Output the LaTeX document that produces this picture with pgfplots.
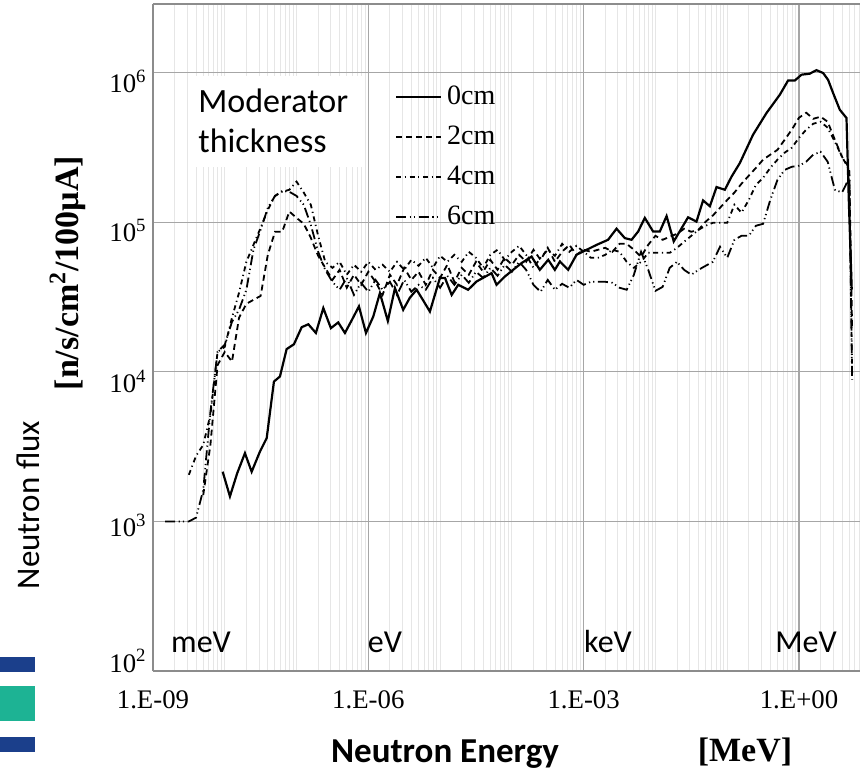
\documentclass[border=0pt]{standalone}
\usepackage{fontspec}
\setmainfont{Liberation Serif}
\newfontfamily\calibri{Carlito}
\usepackage{pgfplots}
\pgfplotsset{compat=1.18}
\definecolor{gridmajor}{HTML}{A6A6A6}
\definecolor{gridminor}{HTML}{E6E6E6}
\definecolor{axisgray}{HTML}{8C8C8C}
\definecolor{dkblue}{HTML}{1B3F8B}
\definecolor{decoteal}{HTML}{1DB394}
\begin{document}
\begin{tikzpicture}[x=1pt,y=1pt]
\begin{axis}[
  at={(76.5pt,48.5pt)}, anchor=south west,
  scale only axis, width=353.5pt, height=333.5pt,
  xmode=log, ymode=log,
  xmin=1e-9, xmax=7.08, ymin=100, ymax=2.88e6,
  xtick={1e-9,1e-6,1e-3,1},
  xticklabels={1.E-09,1.E-06,1.E-03,1.E+00},
  minor xtick={2e-9,3e-9,4e-9,5e-9,6e-9,7e-9,8e-9,9e-9,1e-8,2e-8,3e-8,4e-8,5e-8,6e-8,7e-8,8e-8,9e-8,1e-7,2e-7,3e-7,4e-7,5e-7,6e-7,7e-7,8e-7,9e-7,2e-6,3e-6,4e-6,5e-6,6e-6,7e-6,8e-6,9e-6,1e-5,2e-5,3e-5,4e-5,5e-5,6e-5,7e-5,8e-5,9e-5,1e-4,2e-4,3e-4,4e-4,5e-4,6e-4,7e-4,8e-4,9e-4,2e-3,3e-3,4e-3,5e-3,6e-3,7e-3,8e-3,9e-3,1e-2,2e-2,3e-2,4e-2,5e-2,6e-2,7e-2,8e-2,9e-2,1e-1,2e-1,3e-1,4e-1,5e-1,6e-1,7e-1,8e-1,9e-1,2,3,4,5,6,7},
  ytick={1e2,1e3,1e4,1e5,1e6},
  yticklabels={10\textsuperscript{2},10\textsuperscript{3},10\textsuperscript{4},10\textsuperscript{5},10\textsuperscript{6}},
  xmajorgrids, xminorgrids, ymajorgrids,
  major grid style={draw=gridmajor, line width=0.6pt},
  minor grid style={draw=gridminor, line width=0.5pt},
  major tick length=0pt, minor tick length=0pt,
  axis x line*=box, axis y line*=left,
  axis line style={draw=axisgray, line width=0.6pt, -},
  xticklabel style={font=\fontsize{13.4}{16}\selectfont, anchor=base, yshift=-18.5pt},
  yticklabel style={font=\fontsize{13.4}{16}\selectfont, anchor=east, inner sep=0pt, xshift=-3pt, yshift={{5,-2,-4.75,-4,-4.25}[\ticknum]*1pt}},
  legend cell align=left,
  legend style={draw=none, fill=none, at={(axis description cs:0.3423,0.880)}, anchor=north west,
    inner sep=0pt, outer sep=0pt, font=\fontsize{14}{16}\selectfont, row sep=7pt,
    nodes={inner sep=0pt, text height=10pt, text depth=3pt},
    /tikz/every odd column/.append style={column sep=2.5pt}},
  legend image code/.code={\draw[#1] (0pt,0pt) -- (22.5pt,0pt);},
]
% 0 cm
\addplot[black, line width=1.1pt] coordinates {
(9.35e-9,2150)(1.18e-8,1470)(1.49e-8,2100)(1.91e-8,2860)(2.37e-8,2150)(3.09e-8,2930)(3.84e-8,3610)(4.84e-8,8610)(5.87e-8,9310)(7.28e-8,14200)
(9.2e-8,15300)(1.18e-7,19900)(1.46e-7,20800)(1.86e-7,18200)(2.36e-7,26700)(3.01e-7,19600)(3.81e-7,21400)(4.72e-7,18200)(5.92e-7,22300)(7.40e-7,27400)
(9.27e-7,18200)(1.17e-6,23400)(1.45e-6,33600)(1.87e-6,21900)(2.35e-6,36300)(3.06e-6,26000)(3.79e-6,31300)(4.71e-6,35400)(5.75e-6,30300)(7.21e-6,25300)
(9.93e-6,42400)(1.17e-5,42400)(1.45e-5,32700)(1.79e-5,38200)(2.46e-5,35400)(3.22e-5,40200)(5.21e-5,45700)(6.12e-5,38200)(8.0e-5,43400)(1.04e-4,48100)
(1.36e-4,53300)(1.88e-4,59000)(2.45e-4,48100)(3.21e-4,56100)(3.97e-4,48100)(4.67e-4,54700)(6.08e-4,48100)(7.96e-4,60700)(9.85e-4,63800)(1.51e-3,70600)
(2.19e-3,76400)(2.87e-3,90600)(3.75e-3,78400)(4.65e-3,76400)(5.74e-3,86700)(7.11e-3,107000)(9.29e-3,86700)(1.15e-2,86700)(1.43e-2,110000)(1.80e-2,74500)
(2.85e-2,108000)(3.73e-2,101000)(4.61e-2,140000)(5.73e-2,128000)(7.10e-2,172000)(9.27e-2,165000)(0.115,202000)(0.150,249000)(0.229,385000)(0.352,537000)
(0.541,713000)(0.705,887000)(0.875,887000)(1.084,970000)(1.41,985000)(1.75,1040000)(2.17,995000)(2.54,897000)(2.99,731000)(3.70,566000)
(4.59,498000)(4.94,142000)(5.43,35400)
};
\addlegendentry{0cm}
% 2 cm
\addplot[black, line width=0.9pt, dash pattern=on 3pt off 2pt] coordinates {
(5.01e-9,1500)(6.31e-9,3250)(7.94e-9,11100)(1e-8,13600)(1.26e-8,11700)(1.58e-8,23000)(2.0e-8,28500)(2.51e-8,30300)(3.16e-8,32200)(3.98e-8,60600)
(5.01e-8,86400)(6.31e-8,86400)(7.94e-8,118000)(1e-7,107000)(1.26e-7,97700)(1.58e-7,78800)(2.0e-7,59700)(2.51e-7,49600)(3.16e-7,41200)(3.98e-7,48100)
(5.01e-7,36500)(6.31e-7,44600)(7.94e-7,38200)(1e-6,46700)(1.26e-6,40000)(1.58e-6,32700)(2.0e-6,44600)(2.51e-6,38200)(3.16e-6,49600)(3.98e-6,41200)
(5.01e-6,46700)(6.31e-6,38200)(7.94e-6,48100)(1e-5,42500)(1.26e-5,52000)(1.58e-5,40000)(2.0e-5,49600)(2.51e-5,44600)(3.16e-5,54400)(3.98e-5,46700)
(5.01e-5,56100)(6.31e-5,48100)(7.94e-5,57900)(1e-4,52000)(1.26e-4,60600)(1.58e-4,54400)(2.0e-4,65500)(2.51e-4,56100)(3.16e-4,67500)(3.98e-4,54400)
(5.01e-4,63500)(6.31e-4,70700)(7.94e-4,60600)(1e-3,65500)(1.26e-3,63500)(1.58e-3,65500)(2.0e-3,67500)(2.51e-3,63500)(3.16e-3,71800)(3.98e-3,71800)
(5.01e-3,65500)(6.31e-3,58800)(7.94e-3,70700)(1e-2,81200)(1.26e-2,76400)(1.58e-2,80000)(2.0e-2,83800)(2.51e-2,90500)(3.16e-2,86400)(3.98e-2,89100)
(5.01e-2,101000)(6.31e-2,111000)(7.94e-2,125000)(0.1,141000)(0.126,158000)(0.158,181000)(0.2,205000)(0.251,231000)(0.316,262000)(0.398,283000)
(0.501,305000)(0.631,356000)(0.794,416000)(1.0,500000)(1.26,540000)(1.58,492000)(2.0,508000)(2.51,470000)(3.16,356000)(3.98,274000)
(5.01,231000)(5.5,19100)
};
\addlegendentry{2cm}
% 4 cm
\addplot[black, line width=0.9pt, dash pattern=on 2.5pt off 1.8pt on 0.6pt off 1.8pt] coordinates {
(3.16e-9,2050)(3.98e-9,2740)(5.01e-9,3250)(6.31e-9,5160)(7.94e-9,13600)(1e-8,14700)(1.26e-8,23000)(1.58e-8,33800)(2.0e-8,54400)(2.51e-8,70700)
(3.16e-8,91900)(3.98e-8,121000)(5.01e-8,150000)(6.31e-8,160000)(7.94e-8,165000)(1e-7,187000)(1.26e-7,158000)(1.58e-7,131000)(2.0e-7,81200)(2.51e-7,54400)
(3.16e-7,49600)(3.98e-7,54400)(5.01e-7,44600)(6.31e-7,52000)(7.94e-7,46700)(1e-6,54400)(1.26e-6,48100)(1.58e-6,52000)(2.0e-6,46700)(2.51e-6,54400)
(3.16e-6,48100)(3.98e-6,56100)(5.01e-6,51200)(6.31e-6,57900)(7.94e-6,49600)(1e-5,59700)(1.26e-5,54400)(1.58e-5,60600)(2.0e-5,54400)(2.51e-5,63500)
(3.16e-5,57900)(3.98e-5,49600)(5.01e-5,60600)(6.31e-5,65500)(7.94e-5,56100)(1e-4,63500)(1.26e-4,69600)(1.58e-4,60600)(2.0e-4,49600)(2.51e-4,57900)
(3.16e-4,65500)(3.98e-4,59700)(5.01e-4,71800)(6.31e-4,63500)(7.94e-4,69600)(1e-3,63500)(1.26e-3,57900)(1.58e-3,57900)(2.0e-3,60600)(2.51e-3,65500)
(3.16e-3,63500)(3.98e-3,54400)(5.01e-3,49600)(6.31e-3,54400)(7.94e-3,62500)(1e-2,62500)(1.26e-2,62500)(1.58e-2,62500)(2.0e-2,67500)(2.51e-2,74100)
(3.16e-2,81200)(3.98e-2,89100)(5.01e-2,94800)(6.31e-2,99200)(7.94e-2,99200)(0.1,99200)(0.126,131000)(0.158,116000)(0.2,141000)(0.251,178000)
(0.316,198000)(0.398,231000)(0.501,262000)(0.631,292000)(0.794,315000)(1.0,367000)(1.26,416000)(1.58,456000)(2.0,470000)(2.51,429000)
(3.16,345000)(3.98,274000)(5.01,224000)(5.5,9850)
};
\addlegendentry{4cm}
% 6 cm
\addplot[black, line width=0.9pt, dash pattern=on 5pt off 1.8pt on 0.6pt off 1.5pt on 0.6pt off 1.8pt] coordinates {
(1.47e-9,1000)(2.0e-9,1000)(2.51e-9,1000)(3.16e-9,1000)(3.98e-9,1060)(5.01e-9,1620)(6.31e-9,5400)(7.94e-9,13600)(1e-8,15200)(1.26e-8,21600)
(1.58e-8,26000)(2.0e-8,35400)(2.51e-8,65500)(3.16e-8,89100)(3.98e-8,125000)(5.01e-8,150000)(6.31e-8,162000)(7.94e-8,160000)(1e-7,150000)(1.26e-7,131000)
(1.58e-7,96200)(2.0e-7,63500)(2.51e-7,48100)(3.16e-7,40000)(3.98e-7,35400)(5.01e-7,42500)(6.31e-7,32700)(7.94e-7,39400)(1e-6,34300)(1.26e-6,41200)
(1.58e-6,35400)(2.0e-6,40000)(2.51e-6,32700)(3.16e-6,41200)(3.98e-6,34300)(5.01e-6,38200)(6.31e-6,35400)(7.94e-6,42500)(1e-5,36500)(1.26e-5,43900)
(1.58e-5,38200)(2.0e-5,44600)(2.51e-5,39400)(3.16e-5,46700)(3.98e-5,42500)(5.01e-5,49600)(6.31e-5,43900)(7.94e-5,52000)(1e-4,46700)(1.26e-4,54400)
(1.58e-4,48100)(2.0e-4,38200)(2.51e-4,34300)(3.16e-4,41200)(3.98e-4,35400)(5.01e-4,38800)(6.31e-4,36500)(7.94e-4,41200)(1e-3,38200)(1.26e-3,40000)
(1.58e-3,40000)(2.0e-3,40000)(2.51e-3,39400)(3.16e-3,36500)(3.98e-3,35400)(5.01e-3,44600)(6.31e-3,63500)(7.94e-3,48100)(1e-2,34800)(1.26e-2,37000)
(1.58e-2,49600)(2.0e-2,54400)(2.51e-2,48100)(3.16e-2,44600)(3.98e-2,48100)(5.01e-2,51200)(6.31e-2,54400)(7.94e-2,68600)(0.1,57900)(0.126,76400)
(0.158,81200)(0.2,81200)(0.251,94800)(0.316,97700)(0.398,141000)(0.501,192000)(0.631,224000)(0.794,235000)(1.0,239000)(1.26,254000)
(1.58,283000)(2.0,296000)(2.51,254000)(3.16,165000)(3.98,158000)(5.01,198000)(5.5,8840)
};
\addlegendentry{6cm}
\end{axis}
% white label box and annotations
\fill[white] (95,300.5) rectangle (181,346);
\node[anchor=base west, inner sep=0pt, font=\calibri\fontsize{17}{20}\selectfont] at (99,328) {Moderator};
\node[anchor=base west, inner sep=0pt, font=\calibri\fontsize{17}{20}\selectfont] at (99,308) {thickness};
\node[anchor=base, inner sep=0pt, font=\calibri\fontsize{16}{19}\selectfont] at (100.5,58) {meV};
\node[anchor=base, inner sep=0pt, font=\calibri\fontsize{16}{19}\selectfont] at (192.5,58) {eV};
\node[anchor=base, inner sep=0pt, font=\calibri\fontsize{16}{19}\selectfont] at (304,58) {keV};
\node[anchor=base, inner sep=0pt, font=\calibri\fontsize{16}{19}\selectfont] at (403,58) {MeV};
% axis titles
\node[anchor=base, inner sep=0pt, font=\calibri\bfseries\fontsize{17.5}{20}\selectfont] at (222.5,3) {Neutron Energy};
\node[anchor=base, inner sep=0pt, font=\bfseries\fontsize{17}{20}\selectfont] at (372.5,3.5) {[MeV]};
\node[rotate=90, anchor=base, inner sep=0pt, font=\calibri\fontsize{16.5}{20}\selectfont] at (20,131.5) {Neutron flux};
\node[rotate=90, anchor=base, inner sep=0pt, font=\bfseries\fontsize{17}{20}\selectfont] at (39,247.5) {[n/s/cm\textsuperscript{2}/100µA]};
% slide decoration
\fill[dkblue] (0,48) rectangle (17.5,55.5);
\fill[decoteal] (0,23.5) rectangle (17.5,41);
\fill[dkblue] (0,8) rectangle (17.5,15.5);
\pgfresetboundingbox
\useasboundingbox (0,0) rectangle (430,384);
\end{tikzpicture}
\end{document}
